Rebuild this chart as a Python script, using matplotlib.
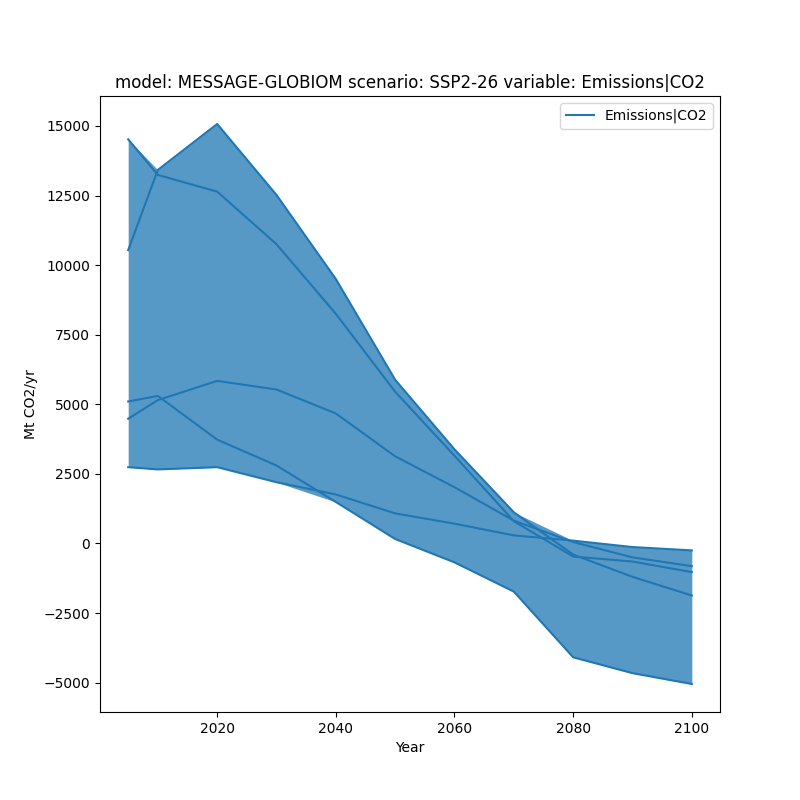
import numpy as np
import matplotlib
matplotlib.use("Agg")
import matplotlib.pyplot as plt

# Emissions|CO2 for five regions, MESSAGE-GLOBIOM SSP2-26 (Mt CO2/yr)
years = [2005, 2010, 2020, 2030, 2040, 2050, 2060, 2070, 2080, 2090, 2100]
region_a = [10540, 13420, 15070, 12520, 9500, 5880, 3380, 1120, -400, -1200, -1870]
region_b = [14520, 13240, 12640, 10750, 8250, 5450, 3150, 800, -470, -650, -1030]
region_c = [5100, 5300, 3730, 2800, 1490, 160, -680, -1730, -4090, -4660, -5050]
region_d = [4480, 5150, 5840, 5530, 4670, 3130, 2020, 820, 50, -500, -815]
region_e = [2740, 2660, 2740, 2200, 1760, 1080, 710, 290, 100, -130, -250]

series = [region_a, region_b, region_c, region_d, region_e]
color = "#1f77b4"

fig, ax = plt.subplots(figsize=(8, 8), dpi=100)

data = np.array(series)
ax.fill_between(years, data.min(axis=0), data.max(axis=0),
                color=color, alpha=0.75, linewidth=0)
for i, s in enumerate(series):
    ax.plot(years, s, color=color,
            label="Emissions|CO2" if i == 0 else None)

ax.set_title("model: MESSAGE-GLOBIOM scenario: SSP2-26 variable: Emissions|CO2")
ax.set_xlabel("Year")
ax.set_ylabel("Mt CO2/yr")
ax.set_xticks([2020, 2040, 2060, 2080, 2100])
ax.legend(loc="upper right")

fig.savefig("out.png", dpi=100)
